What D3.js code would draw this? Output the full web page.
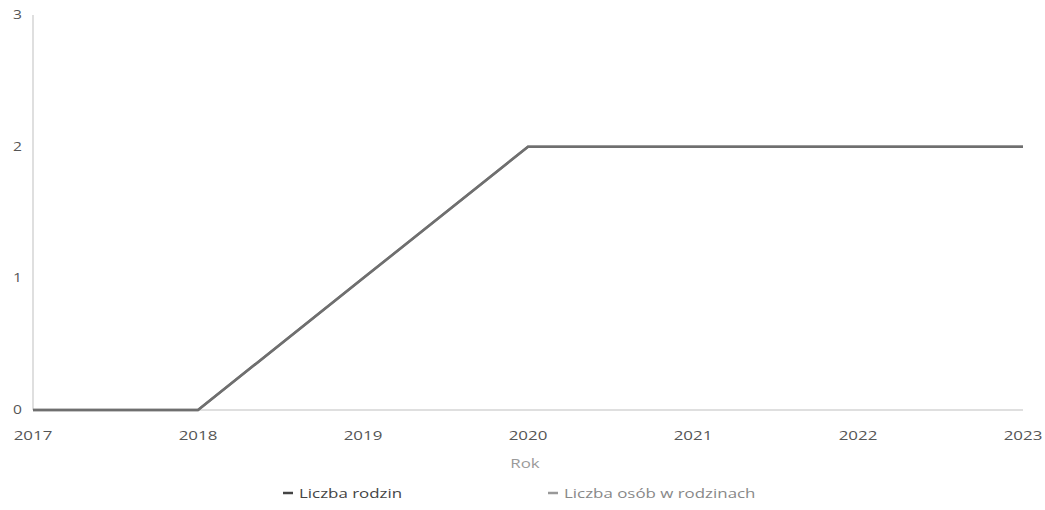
<!DOCTYPE html>
<html><head><meta charset="utf-8">
<script src="https://cdn.jsdelivr.net/npm/d3@7"></script>
<style>body{margin:0;background:#fff;font-family:"Open Sans",sans-serif;}</style>
</head><body><svg id="c" width="1045" height="510"></svg>
<script>
const years = [2017, 2018, 2019, 2020, 2021, 2022, 2023];
const rodziny = [0, 0, 1, 2, 2, 2, 2];
const osoby = [0, 0, 1, 2, 2, 2, 2];
const yTicks = [0, 1, 2, 3];
const seriesNames = ["Liczba rodzin", "Liczba osób w rodzinach"];
const seriesColors = ["#6f6f6f", "#8a8a8a"];

const svg = d3.select("#c");
const x = d3.scaleLinear().domain([2017, 2023]).range([33, 1023]);
const y = d3.scaleLinear().domain([0, 3]).range([410, 15]);
const sx = 1.3;

svg.append("line").attr("x1", 33).attr("x2", 33).attr("y1", y(3)).attr("y2", y(0))
  .attr("stroke", "#d4d4d4").attr("stroke-width", 1.5);
svg.append("line").attr("x1", 33).attr("x2", 1023).attr("y1", y(0)).attr("y2", y(0))
  .attr("stroke", "#d4d4d4").attr("stroke-width", 1.5);

svg.selectAll(".yt").data(yTicks).enter().append("text")
  .attr("transform", d => `translate(22,${y(d) + 4}) scale(${sx},1)`).attr("text-anchor", "end")
  .attr("font-size", 12).attr("fill", "#555").text(d => d);

svg.selectAll(".xt").data(years).enter().append("text")
  .attr("transform", d => `translate(${x(d)},440) scale(${sx},1)`).attr("text-anchor", "middle")
  .attr("font-size", 13).attr("fill", "#555").text(d => d);

svg.append("text").attr("transform", `translate(${x(2020) - 3},468) scale(${sx},1)`).attr("text-anchor", "middle")
  .attr("font-size", 13).attr("fill", "#9a9a9a").text("Rok");

const line = d3.line().x((d, i) => x(years[i])).y(d => y(d));
[osoby, rodziny].forEach((s, k) => {
  svg.append("path").datum(s).attr("d", line).attr("fill", "none")
    .attr("stroke", seriesColors[1 - k]).attr("stroke-width", 2.5);
});

const legX = [283, 548];
seriesNames.forEach((n, i) => {
  const g = svg.append("g").attr("transform", `translate(${legX[i]},493)`);
  g.append("line").attr("x1", 0).attr("x2", 10).attr("y1", 0).attr("y2", 0)
    .attr("stroke", i === 0 ? "#444" : "#999").attr("stroke-width", 2.5);
  g.append("text").attr("transform", `translate(16,5) scale(${sx},1)`).attr("font-size", 13)
    .attr("fill", i === 0 ? "#444" : "#888").text(n);
});
</script></body></html>
